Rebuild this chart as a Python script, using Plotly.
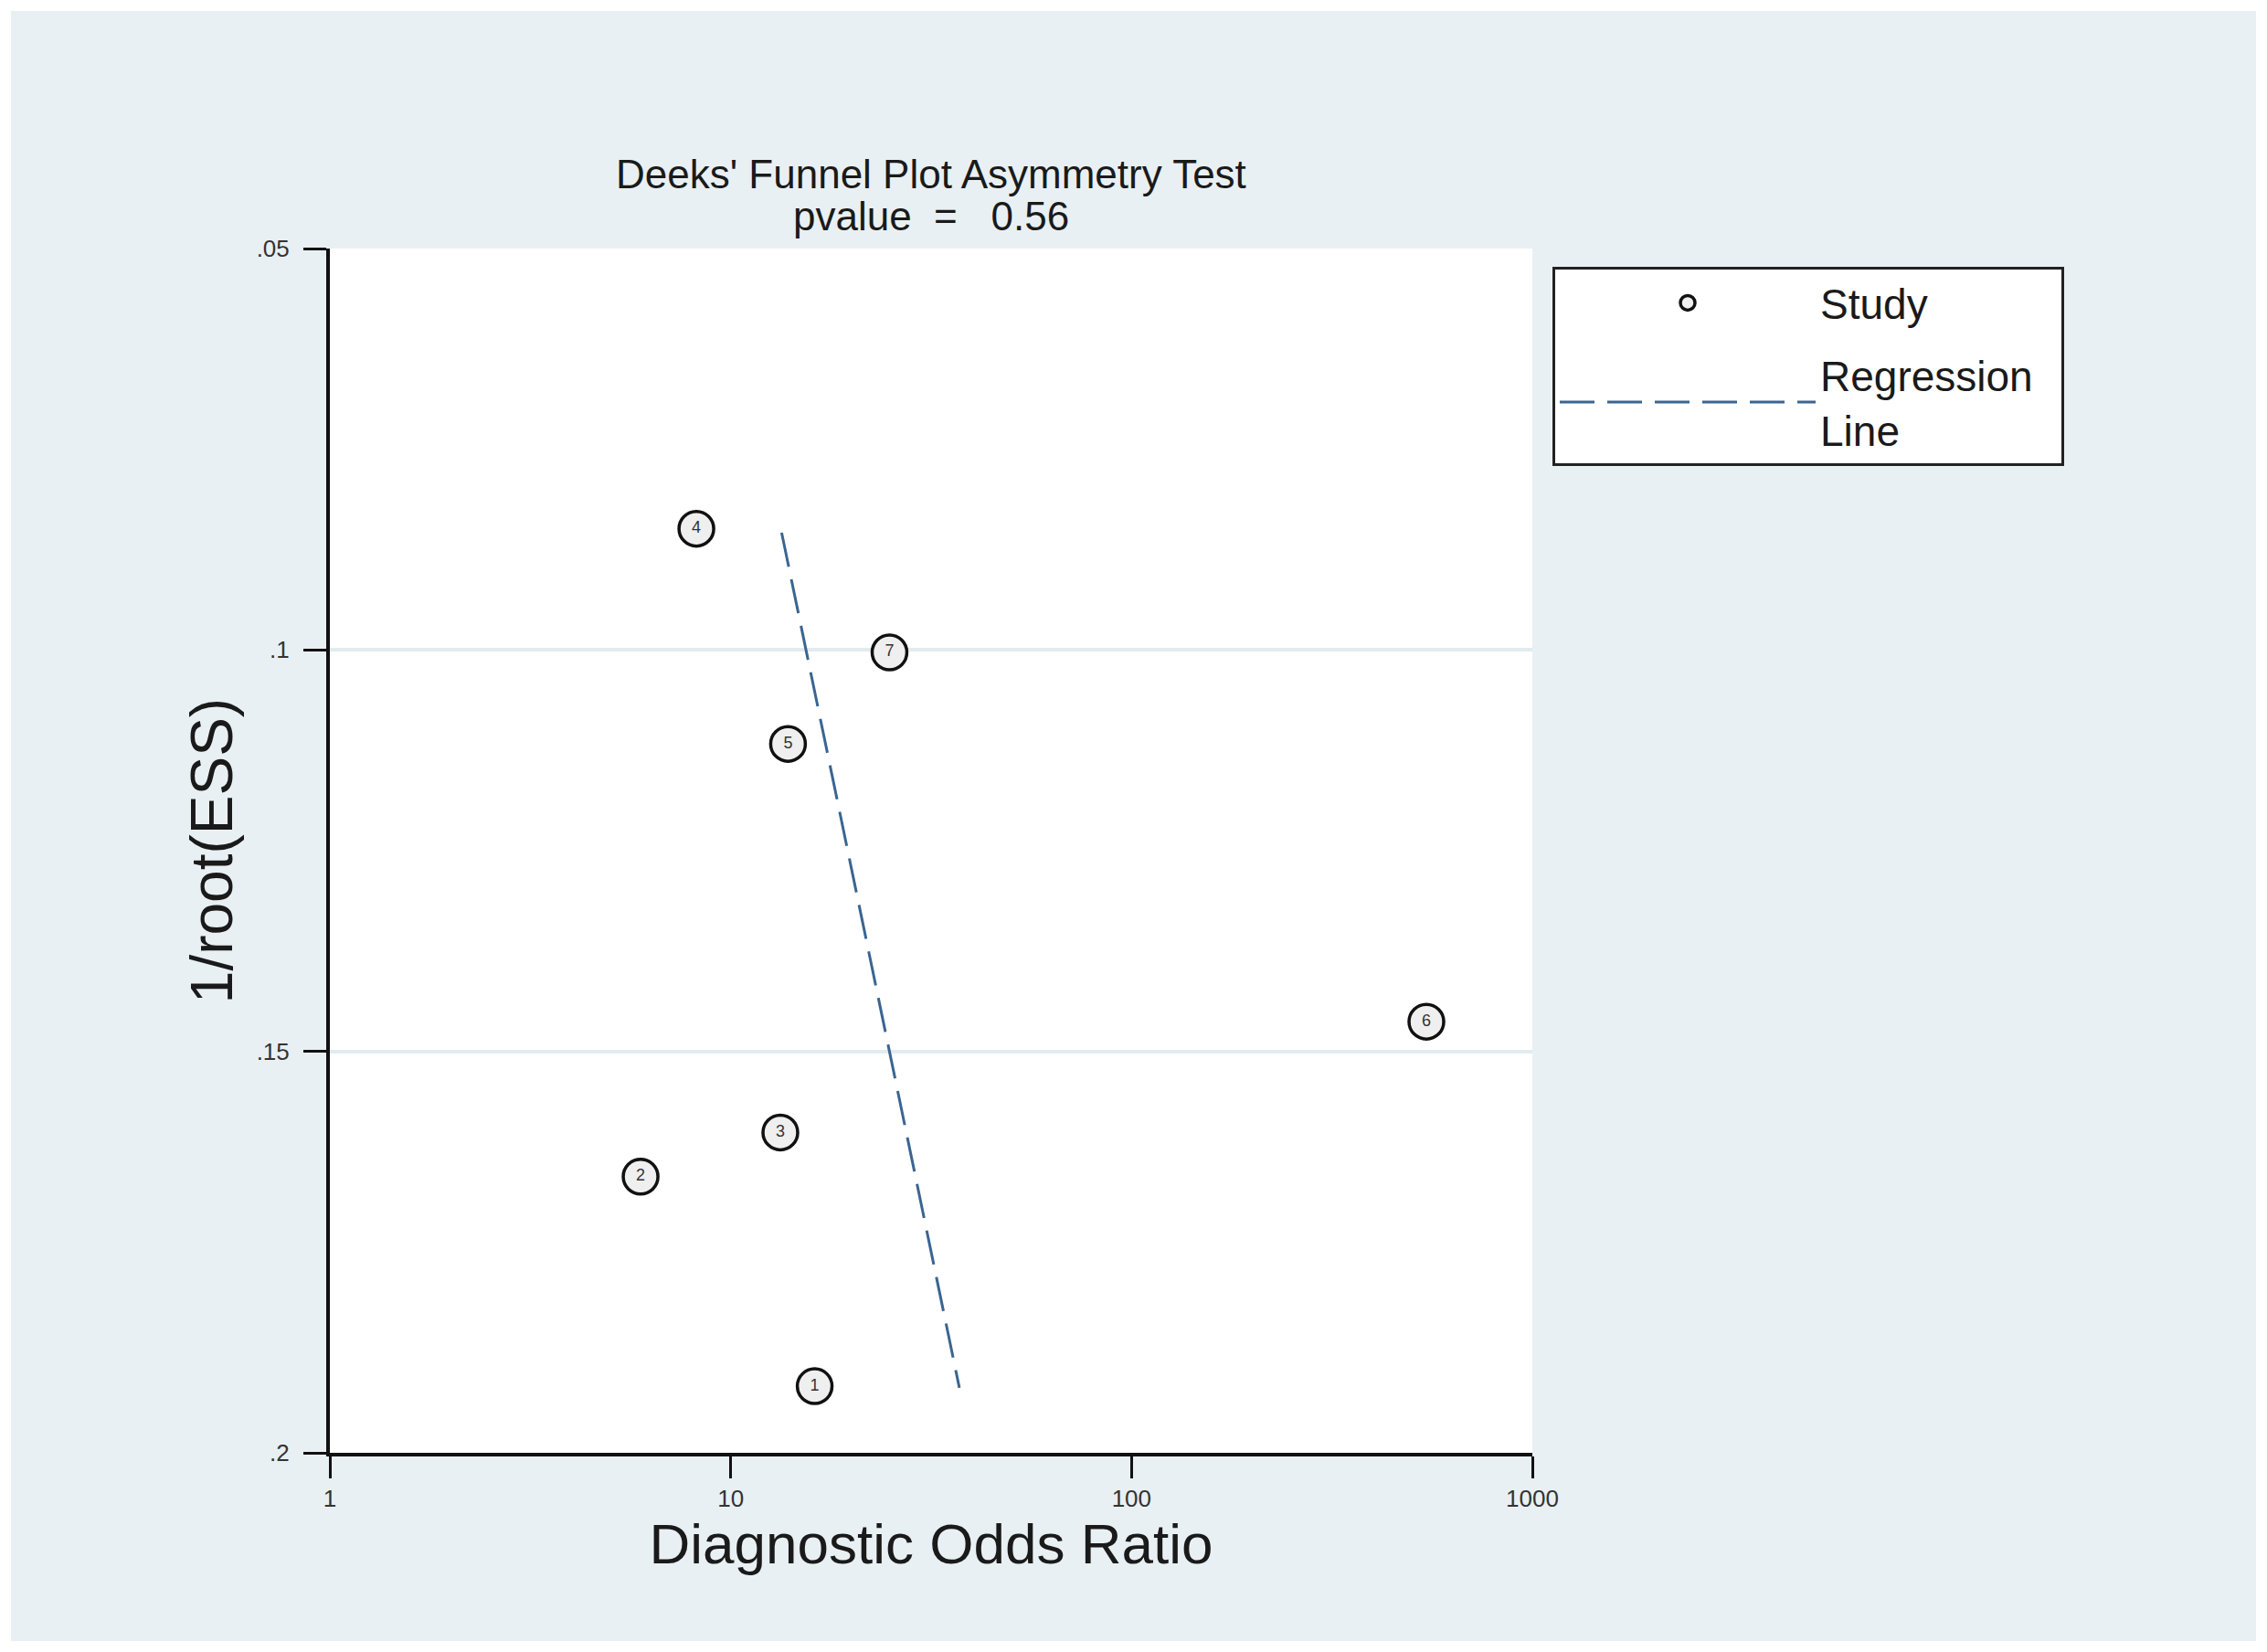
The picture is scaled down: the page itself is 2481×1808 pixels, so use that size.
import plotly.graph_objects as go

# study points
study_ids = ["1", "2", "3", "4", "5", "6", "7"]
dor = [16.2, 5.96, 13.3, 8.21, 13.9, 544, 24.9]
inv_root_ess = [0.1917, 0.1656, 0.1601, 0.0849, 0.1117, 0.1463, 0.1003]

# regression line end points
reg_dor = [13.4, 37.2]
reg_y = [0.0854, 0.1919]

y_ticks = [0.05, 0.1, 0.15, 0.2]
y_ticktext = [".05", ".1", ".15", ".2"]
x_ticks = [1, 10, 100, 1000]
x_ticktext = ["1", "10", "100", "1000"]

title_lines = ["Deeks' Funnel Plot Asymmetry Test", "pvalue\u00a0\u00a0=\u00a0\u00a0\u00a00.56"]

FONT = "Arial, Liberation Sans, sans-serif"
BG = "#e9f0f3"
INK = "#1a1a1a"

fig = go.Figure()
fig.add_trace(go.Scatter(
    x=dor, y=inv_root_ess, mode="markers+text", name="Study", legendgroup="study",
    text=study_ids, textposition="middle center",
    textfont=dict(size=18, color="#333333", family=FONT),
    marker=dict(symbol="circle", size=38, color="#efefef",
                line=dict(color="#111111", width=3.5)),
))
fig.add_trace(go.Scatter(
    x=reg_dor, y=reg_y, mode="lines", name="Regression\u00a0\u00a0<br>Line",
    legendgroup="reg",
    line=dict(color="#3a6591", width=3, dash="38px,14px"),
))

# page sits 8px inside the window (body margin)
W, H = 2481 - 16, 1808 - 16
OFF = 8
ml = 361 - OFF
mt = 272 - OFF
mr = W - (1677 - OFF)
mb = H - (1590 - OFF)
pw, ph = W - ml - mr, H - mt - mb


def px_x(v):
    return (v - OFF - ml) / pw


def px_y(v):
    return (H - mb - (v - OFF)) / ph


for text, ypix in zip(title_lines, [191, 236]):
    fig.add_annotation(text=text, xref="paper", yref="paper", x=0.5, y=px_y(ypix),
                       xanchor="center", yanchor="middle", showarrow=False,
                       font=dict(size=44, color=INK, family=FONT))

# white frame round the grey page
fig.add_shape(type="rect", xref="paper", yref="paper", layer="below",
              x0=px_x(OFF), x1=px_x(OFF + W), y0=px_y(OFF + H), y1=px_y(OFF),
              line=dict(color="white", width=8), fillcolor="rgba(0,0,0,0)")

fig.update_layout(
    width=W, height=H,
    margin=dict(l=ml, r=mr, t=mt, b=mb),
    paper_bgcolor=BG, plot_bgcolor="white",
    font=dict(family=FONT, color=INK),
    showlegend=True,
    legend=dict(
        x=px_x(1699), y=px_y(292), xanchor="left", yanchor="top",
        bgcolor="white", bordercolor="#222222", borderwidth=3,
        font=dict(size=46, color=INK, family=FONT),
        itemwidth=280, itemsizing="trace", tracegroupgap=16,
    ),
)
fig.update_xaxes(
    type="log", range=[0, 3], tickvals=x_ticks, ticktext=x_ticktext,
    showgrid=False, zeroline=False,
    showline=True, linecolor="#111111", linewidth=4,
    ticks="outside", ticklen=24, tickwidth=3, tickcolor="#111111",
    tickfont=dict(size=26, color="#333333"),
    title=dict(text="Diagnostic Odds Ratio", font=dict(size=62, color=INK), standoff=6),
)
fig.update_yaxes(
    range=[0.2, 0.05], tickvals=y_ticks, ticktext=y_ticktext,
    showgrid=True, gridcolor="#e2ebef", gridwidth=4, zeroline=False,
    showline=True, linecolor="#111111", linewidth=4,
    ticks="outside", ticklen=25, tickwidth=3, tickcolor="#111111",
    ticklabelstandoff=10,
    tickfont=dict(size=26, color="#333333"),
    title=dict(text="1/root(ESS)", font=dict(size=64, color=INK), standoff=6),
)

fig.write_html("out.html")
